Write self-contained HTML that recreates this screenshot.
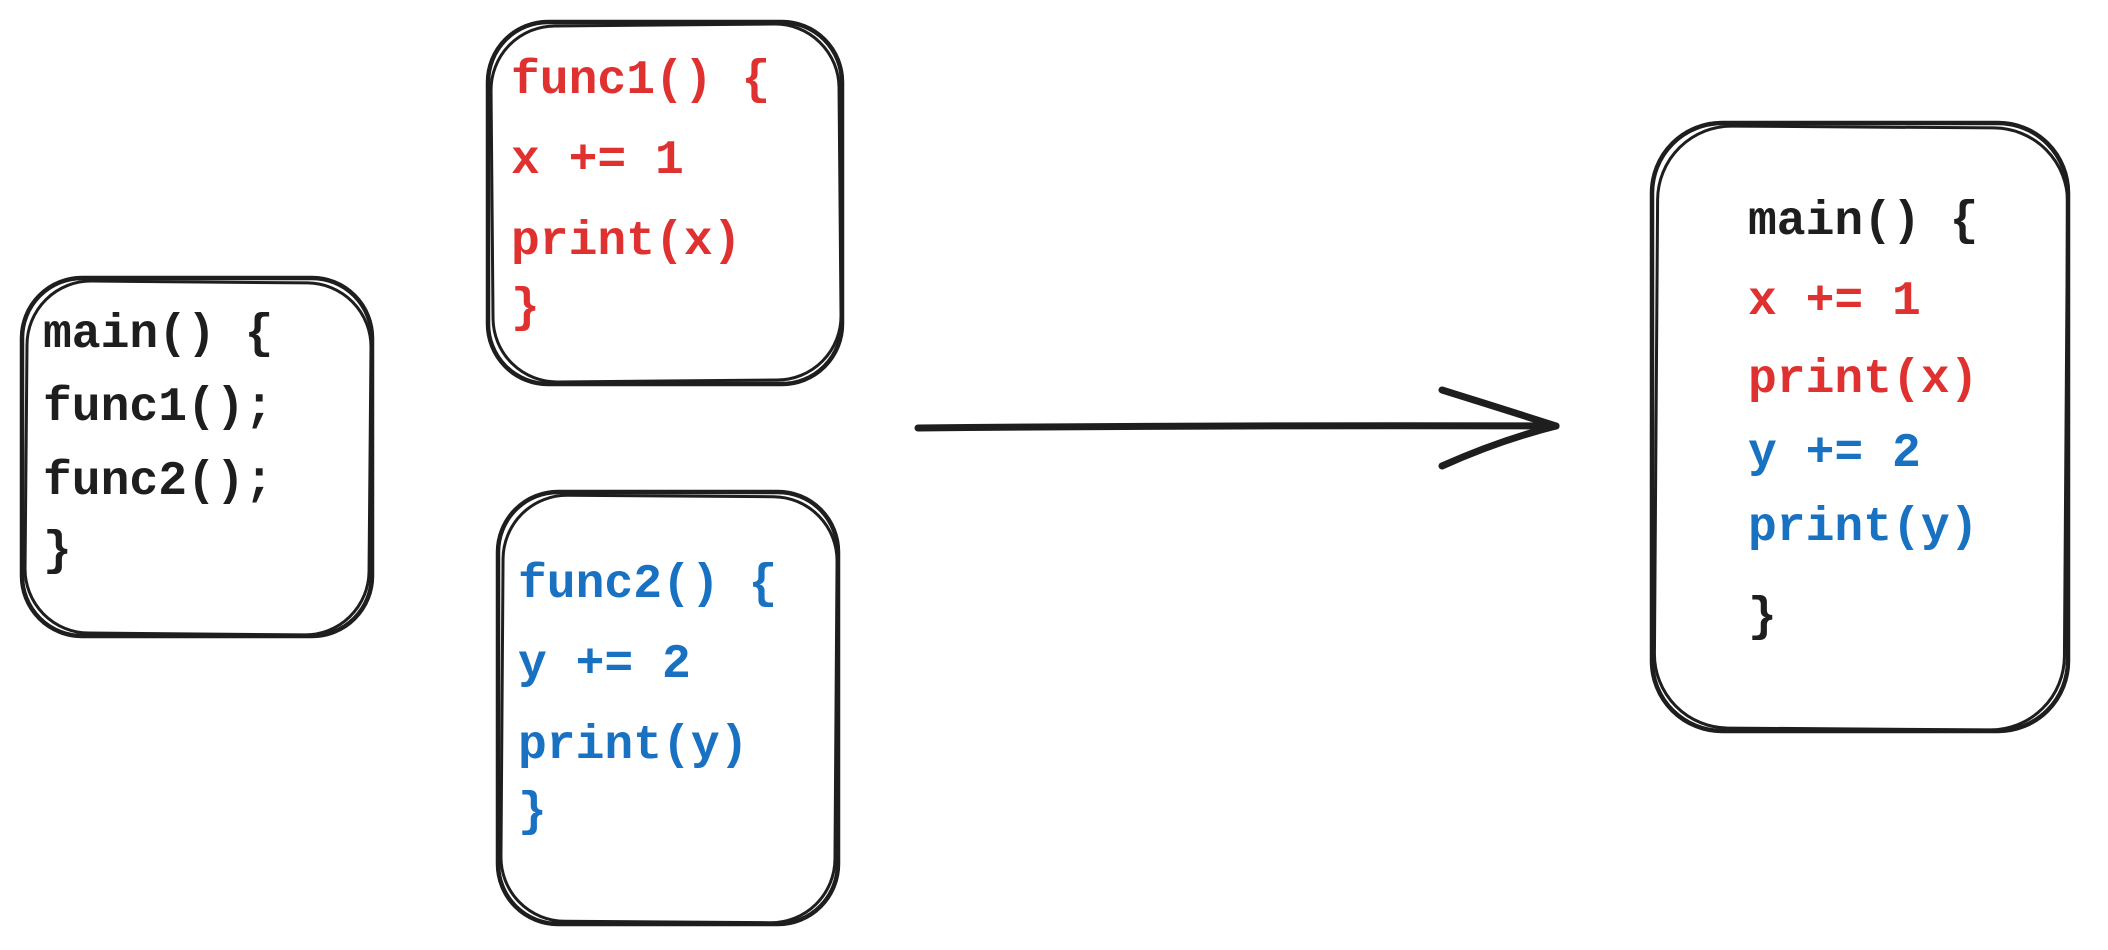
<!DOCTYPE html>
<html><head><meta charset="utf-8"><style>
html,body{margin:0;padding:0;background:#fff;width:2108px;height:950px;overflow:hidden}
svg text{font-family:"Liberation Mono","DejaVu Sans Mono",monospace;font-size:48px;font-weight:bold;dominant-baseline:central}
.k{fill:#1e1e1e}.r{fill:#e03131}.b{fill:#1971c2}
</style></head><body>
<svg width="2108" height="950" viewBox="0 0 2108 950" xmlns="http://www.w3.org/2000/svg">
<g fill="none" stroke="#1e1e1e" stroke-width="4.5">
<rect x="22" y="278" width="350" height="358" rx="60"/>
<rect x="26" y="282" width="344" height="352" rx="64" transform="rotate(0.5 200 460)" stroke-width="3"/>
<rect x="488" y="22" width="354" height="362" rx="60"/>
<rect x="492" y="25" width="348" height="356" rx="64" transform="rotate(-0.5 665 200)" stroke-width="3"/>
<rect x="498" y="492" width="340" height="432" rx="60"/>
<rect x="502" y="496" width="334" height="426" rx="64" transform="rotate(0.4 670 710)" stroke-width="3"/>
<rect x="1652" y="123" width="416" height="608" rx="70"/>
<rect x="1656" y="127" width="410" height="602" rx="74" transform="rotate(0.4 1860 430)" stroke-width="3"/>
<g stroke-width="7" stroke-linecap="round">
<path d="M918 428 Q1240 425 1556 426"/>
<path d="M1442 390 Q1500 408 1556 426"/>
<path d="M1442 466 Q1500 440 1556 426"/>
</g>
</g>
<text x="43" y="335" class="k">main() {</text>
<text x="43" y="408" class="k">func1();</text>
<text x="43" y="482" class="k">func2();</text>
<text x="43" y="552" class="k">}</text>

<text x="511" y="81" class="r">func1() {</text>
<text x="511" y="161" class="r">x += 1</text>
<text x="511" y="242" class="r">print(x)</text>
<text x="511" y="309" class="r">}</text>

<text x="518" y="585" class="b">func2() {</text>
<text x="518" y="665" class="b">y += 2</text>
<text x="518" y="746" class="b">print(y)</text>
<text x="518" y="813" class="b">}</text>

<text x="1748" y="222" class="k">main() {</text>
<text x="1748" y="302" class="r">x += 1</text>
<text x="1748" y="380" class="r">print(x)</text>
<text x="1748" y="454" class="b">y += 2</text>
<text x="1748" y="528" class="b">print(y)</text>
<text x="1748" y="618" class="k">}</text>
</svg>
</body></html>
